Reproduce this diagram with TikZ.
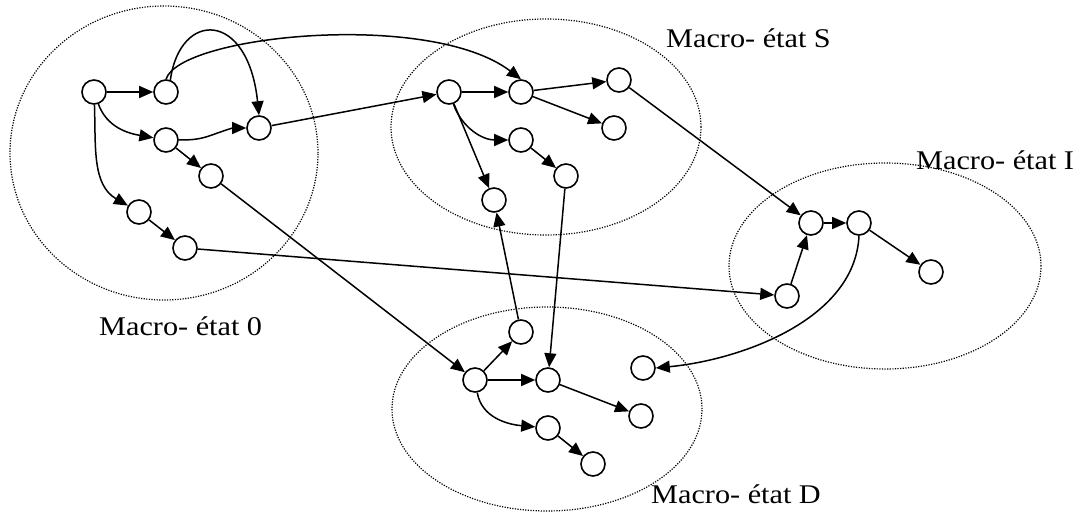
\documentclass[tikz,border=0pt]{standalone}
\usepackage{fontspec}
\setmainfont[FakeStretch=1.12]{Liberation Serif}
\usetikzlibrary{shapes,arrows.meta}

\begin{document}
\begin{tikzpicture}[x=1pt,y=-1pt]
      \tikzstyle{state}=[circle,draw,line width=1.6pt,minimum size=24pt,inner sep=0pt]
      \tikzstyle{macro}=[ellipse,draw,line width=1.2pt,dash pattern=on 1.2pt off 1.4pt,inner sep=0pt]
      \tikzstyle{lbl}=[anchor=base west,inner sep=0pt,font=\fontsize{27}{30}\selectfont]
      \tikzstyle{arr}=[line width=1.5pt,-{Triangle[length=14pt,width=12pt]}]
      \useasboundingbox (0,0) rectangle (1080,513);

      % macro-etats
      \node[macro,minimum width=308pt,minimum height=294pt] (m0) at (164,153) {};
      \node[macro,minimum width=310pt,minimum height=216pt] (mS) at (546,127) {};
      \node[macro,minimum width=312pt,minimum height=206pt] (mI) at (885,266) {};
      \node[macro,minimum width=310pt,minimum height=204pt] (mD) at (547,409) {};
      \node[lbl] (l0) at (99,335) {Macro- état 0};
      \node[lbl] (lS) at (666,48) {Macro- état S};
      \node[lbl] (lI) at (916,170) {Macro- état I};
      \node[lbl] (lD) at (651,503) {Macro- état D};

      % etats
      \node[state] (a1) at (94,92) {};
      \node[state] (a2) at (166,92) {};
      \node[state] (a3) at (166,140) {};
      \node[state] (a4) at (259,128) {};
      \node[state] (a5) at (211,176) {};
      \node[state] (a6) at (139,212) {};
      \node[state] (a7) at (185,248) {};
      \node[state] (s1) at (449,92) {};
      \node[state] (s2) at (521,92) {};
      \node[state] (s3) at (619,80) {};
      \node[state] (s4) at (614,128) {};
      \node[state] (s5) at (521,140) {};
      \node[state] (s6) at (566,176) {};
      \node[state] (s7) at (494,200) {};
      \node[state] (i1) at (787,296) {};
      \node[state] (i2) at (811,223) {};
      \node[state] (i3) at (859,223) {};
      \node[state] (i4) at (931,272) {};
      \node[state] (d1) at (475,380) {};
      \node[state] (d2) at (521,332) {};
      \node[state] (d3) at (548,380) {};
      \node[state] (d4) at (643,368) {};
      \node[state] (d5) at (641,416) {};
      \node[state] (d6) at (548,428) {};
      \node[state] (d7) at (593,464) {};

      % transitions
      \draw[arr] (a1) -- (a2);
      \draw[arr] (a1) to[out=-70,in=170] (a3);
      \draw[arr] (a1) to[out=-88,in=150] (a6);
      \draw[arr] (a3) -- (a5);
      \draw[arr] (a6) -- (a7);
      \draw[arr] (a3.east) to[out=0,in=200] (212,135) to[out=20,in=180] (a4.west);
      \draw[arr] (a2.70) .. controls (180,10) and (248,10) .. (a4.north);
      \draw[arr] (a2.north) .. controls (180,35) and (430,10) .. (s2.north);
      \draw[arr] (a4) -- (s1);
      \draw[arr] (a5) -- (d1);
      \draw[arr] (a7) -- (i1);
      \draw[arr] (s1) -- (s2);
      \draw[arr] (s1) to[out=-70,in=180] (s5);
      \draw[arr] (s1) -- (s7);
      \draw[arr] (s2) -- (s3);
      \draw[arr] (s2) -- (s4);
      \draw[arr] (s5) -- (s6);
      \draw[arr] (s3) -- (i2);
      \draw[arr] (s6) -- (d3);
      \draw[arr] (d2) -- (s7);
      \draw[arr] (i1) -- (i2);
      \draw[arr] (i2) -- (i3);
      \draw[arr] (i3) -- (i4);
      \draw[arr] (i3.south) .. controls (855,320) and (740,360) .. (d4.east);
      \draw[arr] (d1) -- (d2);
      \draw[arr] (d1) -- (d3);
      \draw[arr] (d1) to[out=-80,in=175] (d6);
      \draw[arr] (d3) -- (d5);
      \draw[arr] (d6) -- (d7);
\end{tikzpicture}
\end{document}
